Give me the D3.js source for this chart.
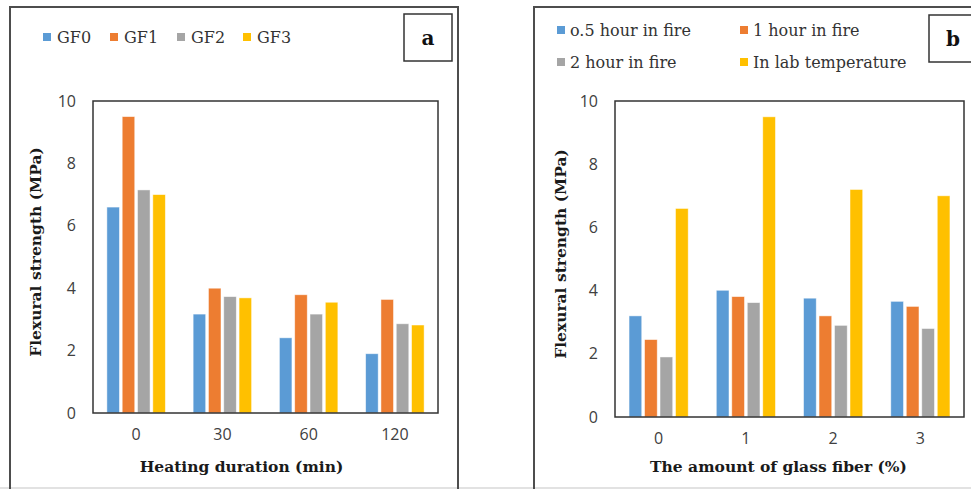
<!DOCTYPE html>
<html>
<head>
<meta charset="utf-8">
<script src="https://cdn.jsdelivr.net/npm/d3@7"></script>
<style>
  html, body { margin: 0; padding: 0; background: #fff; }
  svg { display: block; }
  .tick-label { font-family: "Open Sans", "Noto Sans", sans-serif; font-size: 16px; fill: #404040; }
  .serif { font-family: "DejaVu Serif", "Liberation Serif", serif; }
</style>
</head>
<body>
<svg id="chart" width="971" height="489"></svg>
<script>
// ---------- DATA ----------
const categoriesA = ["0", "30", "60", "120"];
const seriesNamesA = ["GF0", "GF1", "GF2", "GF3"];
const gf0 = [6.6, 3.17, 2.41, 1.9];
const gf1 = [9.5, 4.0, 3.79, 3.64];
const gf2 = [7.15, 3.73, 3.17, 2.86];
const gf3 = [7.0, 3.69, 3.55, 2.82];

const categoriesB = ["0", "1", "2", "3"];
const seriesNamesB = ["o.5 hour in fire", "1 hour in fire", "2 hour in fire", "In lab temperature"];
const halfHour = [3.2, 4.01, 3.76, 3.66];
const oneHour = [2.45, 3.81, 3.2, 3.5];
const twoHour = [1.9, 3.62, 2.9, 2.8];
const labTemp = [6.6, 9.5, 7.2, 7.0];

const yTicks = [0, 2, 4, 6, 8, 10];
const colors = ["#5B9BD5", "#ED7D31", "#A5A5A5", "#FFC000"];

const svg = d3.select("#chart");

// bottom light line
svg.append("line").attr("x1", 0).attr("x2", 971).attr("y1", 488).attr("y2", 488)
  .attr("stroke", "#d9d9d9").attr("stroke-width", 1.5);

function drawPanel(opts) {
  const { seriesVals, seriesNames, categories, plot, frame, box, letter, xTitle, legend } = opts;
  const g = svg.append("g");

  // outer frame (left, top, right)
  const fp = d3.path();
  fp.moveTo(frame.x0, frame.y1); fp.lineTo(frame.x0, frame.y0);
  fp.lineTo(frame.x1, frame.y0); fp.lineTo(frame.x1, frame.y1);
  g.append("path").attr("d", fp.toString()).attr("fill", "none")
    .attr("stroke", "#4d4d4d").attr("stroke-width", 2);

  const x0 = d3.scaleBand().domain(categories).range([plot.x0, plot.x1])
    .paddingInner(0.29).paddingOuter(0.145);
  const x1 = d3.scaleBand().domain(d3.range(seriesVals.length)).range([0, x0.bandwidth()])
    .paddingInner(0.18).paddingOuter(0.09);
  const y = d3.scaleLinear().domain([0, 10]).range([plot.y1, plot.y0]);

  // bars
  categories.forEach((c, ci) => {
    seriesVals.forEach((vals, si) => {
      g.append("rect")
        .attr("x", x0(c) + x1(si))
        .attr("y", y(vals[ci]))
        .attr("width", x1.bandwidth())
        .attr("height", y(0) - y(vals[ci]))
        .attr("fill", colors[si])
        .attr("stroke", "#ffffff").attr("stroke-opacity", 0.6).attr("stroke-width", 0.8);
    });
  });

  // plot box
  g.append("rect").attr("x", plot.x0).attr("y", y(10))
    .attr("width", plot.x1 - plot.x0).attr("height", y(0) - y(10))
    .attr("fill", "none").attr("stroke", "#333").attr("stroke-width", 1.5);

  // y axis labels
  const yAxis = d3.axisLeft(y).tickValues(yTicks).tickSize(0).tickPadding(17);
  const ya = g.append("g").attr("transform", `translate(${plot.x0},0)`).call(yAxis);
  ya.select(".domain").remove();
  ya.selectAll("text").attr("class", "tick-label").attr("font-size", null).attr("font-family", null).attr("fill", null);

  // x axis labels
  const xAxis = d3.axisBottom(x0).tickSize(0).tickPadding(16);
  const xa = g.append("g").attr("transform", `translate(0,${plot.y1})`).call(xAxis);
  xa.select(".domain").remove();
  xa.selectAll("text").attr("class", "tick-label").attr("font-size", null).attr("font-family", null).attr("fill", null);

  // axis titles
  g.append("text").attr("class", "serif")
    .attr("x", (plot.x0 + plot.x1) / 2 - opts.xTitleShift).attr("y", 472)
    .attr("text-anchor", "middle").attr("font-weight", "bold").attr("font-size", 15.5)
    .attr("fill", "#1a1a1a").text(xTitle);
  g.append("text").attr("class", "serif")
    .attr("transform", `translate(${opts.yTitleX},${(plot.y0 + plot.y1) / 2 - 5}) rotate(-90)`)
    .attr("text-anchor", "middle").attr("font-weight", "bold").attr("font-size", 15.5)
    .attr("fill", "#1a1a1a").text("Flexural strength (MPa)");

  // letter box
  g.append("rect").attr("x", box.x0).attr("y", box.y0)
    .attr("width", box.x1 - box.x0).attr("height", box.y1 - box.y0)
    .attr("fill", "#fff").attr("stroke", "#333").attr("stroke-width", 1.5);
  g.append("text").attr("class", "serif")
    .attr("x", box.x0 + 24).attr("y", (box.y0 + box.y1) / 2 + 7)
    .attr("text-anchor", "middle").attr("font-weight", "bold").attr("font-size", 20)
    .attr("fill", "#111").text(letter);

  // legend
  seriesNames.forEach((name, i) => {
    const p = legend[i];
    g.append("rect").attr("x", p[0]).attr("y", p[1] - 4).attr("width", 8).attr("height", 8)
      .attr("fill", colors[i]);
    g.append("text").attr("class", "serif")
      .attr("x", p[0] + opts.legendGap).attr("y", p[1] + 5.5)
      .attr("font-size", opts.legendFont).attr("fill", "#333").text(name);
  });
}

drawPanel({
  seriesVals: [gf0, gf1, gf2, gf3],
  seriesNames: seriesNamesA,
  categories: categoriesA,
  plot: { x0: 93, x1: 438, y0: 101, y1: 413 },
  frame: { x0: 10, x1: 458, y0: 7, y1: 489 },
  box: { x0: 404, x1: 452, y0: 14, y1: 61 },
  letter: "a",
  xTitle: "Heating duration (min)",
  xTitleShift: 24,
  yTitleX: 41,
  legendFont: 16,
  legendGap: 14,
  legend: [[43, 37], [110, 37], [177, 37], [243, 37]]
});

drawPanel({
  seriesVals: [halfHour, oneHour, twoHour, labTemp],
  seriesNames: seriesNamesB,
  categories: categoriesB,
  plot: { x0: 615, x1: 964, y0: 101, y1: 417 },
  frame: { x0: 534, x1: 980, y0: 7, y1: 489 },
  box: { x0: 929, x1: 985, y0: 15, y1: 62 },
  letter: "b",
  xTitle: "The amount of glass fiber (%)",
  xTitleShift: 11,
  yTitleX: 566,
  legendFont: 16,
  legendGap: 13,
  legend: [[557, 30], [740, 30], [557, 62], [740, 62]]
});
</script>
</body>
</html>
